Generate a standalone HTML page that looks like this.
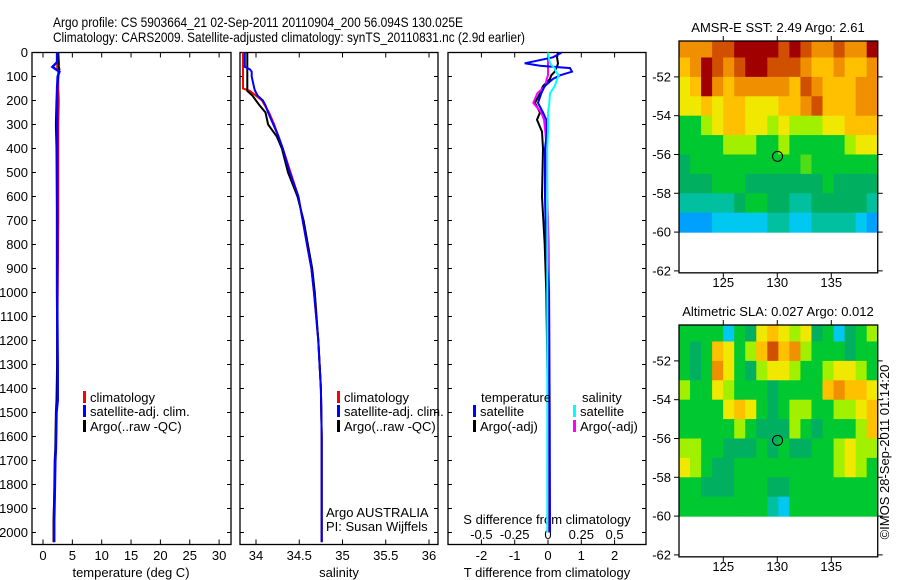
<!DOCTYPE html>
<html><head><meta charset="utf-8"><style>
html,body{margin:0;padding:0;background:#fff;}
svg{display:block;font-family:"Liberation Sans",sans-serif;}
</style></head><body>
<svg id="root" width="900" height="580" viewBox="0 0 900 580" xmlns="http://www.w3.org/2000/svg">
<text x="53" y="27" font-size="14" textLength="410" lengthAdjust="spacingAndGlyphs">Argo profile: CS 5903664_21 02-Sep-2011 20110904_200 56.094S 130.025E</text>
<text x="53" y="42" font-size="14" textLength="472" lengthAdjust="spacingAndGlyphs">Climatology: CARS2009. Satellite-adjusted climatology: synTS_20110831.nc (2.9d earlier)</text>
<g id="g"></g>
</svg>
<script>
// ---------- data ----------
const depthTicks = [0,100,200,300,400,500,600,700,800,900,1000,1100,1200,1300,1400,1500,1600,1700,1800,1900,2000];
const tempTicks = [0,5,10,15,20,25,30];
const salTicks = [34,34.5,35,35.5,36];
const tdiffTicks = [-2,-1,0,1,2];
const sdiffTicks = [-0.5,-0.25,0,0.25,0.5];
const sdiffTickLabels = ["-0.5","-0.25","0","0.25","0.5"];

const tDepth = [0,40,60,70,80,100,150,200,300,400,700,1000,1300,1450,1500,1650,1700,1850,1950,2040];
const tClim  = [2.5,2.5,2.4,2.6,2.6,2.6,2.6,2.7,2.6,2.6,2.6,2.5,2.4,2.4,2.3,2.2,2.1,1.9,1.8,1.8];
const tSat   = [2.4,2.4,1.6,2.2,2.8,2.5,2.4,2.4,2.4,2.4,2.4,2.4,2.5,2.5,2.3,2.2,2.1,2.0,1.9,1.9];
const tArgo  = [2.6,2.7,2.7,2.8,2.7,2.6,2.4,2.3,2.2,2.3,2.4,2.4,2.4,2.3,2.2,2.1,2.0,1.9,1.8,1.8];

const sDepth = [0,60,70,80,100,150,160,180,200,220,250,300,350,400,500,600,700,800,900,1000,1200,1400,1600,2000,2040];
const sClim  = [33.85,33.85,33.85,33.85,33.85,33.85,33.93,34.0,34.07,34.1,34.15,34.21,34.26,34.31,34.40,34.49,34.54,34.59,34.64,34.67,34.72,34.75,34.76,34.76,34.76];
const sSat   = [33.87,33.87,33.93,33.95,33.95,33.98,33.99,34.02,34.08,34.11,34.14,34.20,34.26,34.31,34.39,34.49,34.54,34.59,34.64,34.67,34.72,34.75,34.76,34.76,34.76];
const sArgo  = [33.90,33.90,33.90,33.90,33.90,33.90,33.90,33.96,34.0,34.04,34.11,34.14,34.24,34.30,34.37,34.48,34.55,34.60,34.65,34.68,34.72,34.75,34.76,34.76,34.76];

const dDepth  = [0,20,45,55,65,80,95,110,140,170,210,250,280,330,400,600,800,1000,1500,2000];
const dTSat   = [0.41,0.15,-0.7,-0.24,0.66,0.72,0.36,0.15,-0.1,-0.2,-0.3,-0.15,-0.05,-0.03,-0.09,-0.09,-0.06,0.03,0.05,0.06];
const dTArgo  = [0.3,0.27,0.3,0.28,0.25,0.2,0.1,0.06,-0.15,-0.24,-0.39,-0.24,-0.33,-0.18,-0.15,-0.18,-0.1,-0.05,0.0,0.0];
const dSSat   = [0.0,0.005,0.015,0.03,0.05,0.06,0.08,0.07,0.05,0.015,0.01,0.0,0.0,0.0,-0.005,-0.005,-0.005,-0.005,-0.005,-0.005];
const dSArgo  = [0.0,0.0,0.0,0.0,0.0,0.0,0.0,-0.01,-0.02,-0.08,-0.11,-0.05,-0.03,-0.02,-0.01,-0.005,0.005,0.008,0.01,0.012];

const lonTicks = [125,130,135];
const latTicks = [-52,-54,-56,-58,-60,-62];
const sstGrid = [
 [7,7,7,8,8,9,9,9,9,8,9,8,7,7,8,7,7,9],
 [6,7,9,8,7,8,9,9,8,8,8,7,6,6,7,6,6,7],
 [5,6,9,7,6,7,7,7,7,7,6,8,7,6,6,6,7,7],
 [5,5,6,5,6,6,5,5,5,6,6,7,8,6,6,6,7,7],
 [3,3,4,5,6,6,5,5,4,5,4,4,4,5,5,6,6,6],
 [3,3,3,3,4,4,4,3,3,4,3,3,3,3,3,4,5,5],
 [2.5,3,3,3,3,3,3,3,3,3,3,3.5,3,3,3,3,3,3],
 [2.5,2.5,2.5,3,3,3,2.5,2.5,2.5,2.5,2.5,2.5,2.5,3,2.5,2.5,2.5,2.5],
 [2,2,2,2,2,2.5,3,3,2.5,2.5,2,2,2.5,2.5,2.5,2.5,2.5,2],
 [1,1,1,1.5,1.5,1.5,1.5,1.5,2,2,1.5,1.5,2,2,2,2,1.5,1]];
const slaGrid = [
 [3,3,3,3,1.5,3,2.5,5,6,5,4,5,2.5,3,1.5,2.5,3,4],
 [3,2.5,3,6,5,3,4,6,8,6,7,4,3,3,3,2.5,3,3],
 [3,2.5,3,7,5,3,2.5,4,5,5,4,3,3,4,5,5,4,3],
 [4,3,3,5,4,3,3,3,2.5,3,3,3,3,6,7,6,6,5],
 [3,3,3,3,5,6,5,3,2.5,3,4,4,3,3,4,4,5,6],
 [3,3,3,3,3,4,3,2.5,2.5,2.5,4,3,2.5,3,3,3,4,6],
 [4,4,3,3,2.5,2.5,2.5,3,2.5,3,2.5,2.5,3,3,4,5,4,4],
 [5,4,3,2.5,2.5,3,3,3,3,3,3,3,3,3,4,5,4,3],
 [3,3,2.5,2.5,2.5,3,3,3,2.5,2.5,3,3,3,3,3,3,3,3],
 [3,3,3,3,3,3,3,3,2,1.5,3,3,3,3,3,3,3,3]];
const argoLon = 130.025, argoLat = -56.094;

// ---------- drawing ----------
const NS="http://www.w3.org/2000/svg";
const G=document.getElementById('g');
function mk(tag,attrs,parent){const e=document.createElementNS(NS,tag);for(const k in attrs)e.setAttribute(k,attrs[k]);(parent||G).appendChild(e);return e;}
const yTop=52.5, yBot=544.5;
const yD=d=>yTop+d*0.24;
const panels=[{x0:32,x1:231},{x0:240,x1:438},{x0:448,x1:646}];
const xT=t=>43+t*5.87;
const xS=s=>256+(s-34)*86.5;
const xTd=t=>548+t*33.3;
const xSd=s=>548+s*133.2;

panels.forEach((p,i)=>{
 const r=mk('rect',{x:p.x0,y:yTop,width:p.x1-p.x0,height:yBot-yTop,fill:'none',stroke:'#000','stroke-width':1.3});
 
 
 depthTicks.forEach(d=>{
  mk('line',{x1:p.x0,x2:p.x0+4,y1:yD(d),y2:yD(d),stroke:'#000'});
  mk('line',{x1:p.x1-4,x2:p.x1,y1:yD(d),y2:yD(d),stroke:'#000'});
 });
});
depthTicks.forEach(d=>{
 const t=mk('text',{x:28,y:yD(d)+4.5,'font-size':13,'text-anchor':'end'});t.textContent=d;
 
 
});
function xticks(vals,fx,labels,ly){
 vals.forEach((v,i)=>{
  const x=fx(v);
  mk('line',{x1:x,x2:x,y1:yBot,y2:yBot-5,stroke:'#000'});
  mk('line',{x1:x,x2:x,y1:yTop,y2:yTop+5,stroke:'#000'});
  const t=mk('text',{x:x,y:ly,'font-size':13,'text-anchor':'middle'});t.textContent=labels?labels[i]:v;
  
  
 });
}
xticks(tempTicks,xT,null,560);
xticks(salTicks,xS,null,560);
xticks(tdiffTicks,xTd,null,560);
sdiffTickLabels.forEach((l,i)=>{
 const t=mk('text',{x:xSd(sdiffTicks[i]),y:539,'font-size':13,'text-anchor':'middle'});t.textContent=l;
 
 
});
function lbl(x,y,s,name,anchor){const t=mk('text',{x:x,y:y,'font-size':13,'text-anchor':anchor||'middle'});t.textContent=s;
 
 return t;}
lbl(131,577,'temperature (deg C)','x-axis-title-temperature');
lbl(339,577,'salinity','x-axis-title-salinity');
lbl(547,577,'T difference from climatology','x-axis-title-t-diff');
lbl(547,524,'S difference from climatology','s-diff-axis-title');
lbl(326,517,'Argo AUSTRALIA','argo-australia-label','start');
lbl(326,531,'PI: Susan Wijffels','pi-label','start');

function series(xs,ds,fx,color,name,w){
 const pts=xs.map((v,i)=>fx(v).toFixed(1)+','+yD(ds[i]).toFixed(1)).join(' ');
 const e=mk('polyline',{points:pts,fill:'none',stroke:color,'stroke-width':w||2});
 
 
}
series(tClim,tDepth,xT,'#ff0000','temp-climatology-line');
series(tArgo,tDepth,xT,'#000','temp-argo-line');
series(tSat,tDepth,xT,'#0000ff','temp-satellite-line',2.5);
series(sClim,sDepth,xS,'#ff0000','sal-climatology-line');
series(sArgo,sDepth,xS,'#000','sal-argo-line');
series(sSat,sDepth,xS,'#0000ff','sal-satellite-line');
series(dTArgo,dDepth,xTd,'#000','tdiff-argo-line');
series(dSArgo,dDepth,xSd,'#ff00ff','sdiff-argo-line');
series(dTSat,dDepth,xTd,'#0000ff','tdiff-satellite-line');
series(dSSat,dDepth,xSd,'#00ffff','sdiff-satellite-line');

function legend(x,y,color,text,name){
 mk('rect',{x:x,y:y-11,width:3,height:12,fill:color});
 lbl(x+7,y,text,name,'start');
}
[[32+51,'0'],[240+97,'1']].forEach(([lx,k])=>{
 legend(lx,402,'#ff0000','climatology','legend-climatology-'+k);
 legend(lx,416,'#0000ff','satellite-adj. clim.','legend-satellite-'+k);
 legend(lx,431,'#000','Argo(..raw -QC)','legend-argo-'+k);
});
lbl(481,402,'temperature','legend-title-temperature','start');
lbl(582,402,'salinity','legend-title-salinity','start');
legend(473,416,'#0000ff','satellite','legend-t-satellite');
legend(473,431,'#000','Argo(-adj)','legend-t-argo');
legend(573,416,'#00ffff','satellite','legend-s-satellite');
legend(573,431,'#ff00ff','Argo(-adj)','legend-s-argo');

// ---------- maps ----------
const stops=[[0.5,[0,80,224]],[1,[0,160,255]],[1.5,[0,200,240]],[2,[0,192,160]],[2.5,[0,176,96]],[3,[0,200,48]],[4,[160,240,0]],[5,[240,232,0]],[6,[255,192,0]],[7,[240,144,0]],[8,[208,80,0]],[9,[160,0,0]]];
function col(v){for(let i=1;i<stops.length;i++){if(v<=stops[i][0]){const a=stops[i-1],b=stops[i],f=(v-a[0])/(b[0]-a[0]);return 'rgb('+a[1].map((c,j)=>Math.round(c+(b[1][j]-c)*f)).join(',')+')';}}return 'rgb(160,0,0)';}
const lonMin=120.9,lonMax=139.3,latTop=-50.15,latBot=-62.1;
function drawMap(grid,y0,title,name){
 const xL=lon=>679+(lon-lonMin)*10.8;
 const yL=lat=>y0+(latTop-lat)*19.4;
 const cw=(lonMax-lonMin)/grid[0].length;
 grid.forEach((row,r)=>row.forEach((v,c)=>{
  const la0=r===0?latTop:-50-r, la1=-51-r;
  const e=mk('rect',{x:xL(lonMin+c*cw).toFixed(2),y:yL(la0).toFixed(2),width:(cw*10.8+0.6).toFixed(2),height:(yL(la1)-yL(la0)+0.6).toFixed(2),fill:col(v)});
  
  
 }));
 const f=mk('rect',{x:679,y:y0,width:xL(lonMax)-679,height:yL(latBot)-y0,fill:'none',stroke:'#000','stroke-width':1.3});
 
 
 lonTicks.forEach(l=>{const x=xL(l);
  mk('line',{x1:x,x2:x,y1:y0,y2:y0-5,stroke:'#000'});
  mk('line',{x1:x,x2:x,y1:yL(latBot),y2:yL(latBot)+5,stroke:'#000'});
  lbl(x,yL(latBot)+14,String(l),'lon-tick-label');});
 latTicks.forEach(l=>{const y=yL(l);
  mk('line',{x1:679,x2:674,y1:y,y2:y,stroke:'#000'});
  mk('line',{x1:xL(lonMax),x2:xL(lonMax)+5,y1:y,y2:y,stroke:'#000'});
  lbl(671,y+4.5,String(l),'lat-tick-label','end');});
 const c=mk('circle',{cx:xL(argoLon),cy:yL(argoLat),r:5,fill:'none',stroke:'#000','stroke-width':1});
 
 
 lbl(778,y0-9,title,name+'-title');
}
drawMap(sstGrid,41,'AMSR-E SST: 2.49 Argo: 2.61','sst-map');
drawMap(slaGrid,325,'Altimetric SLA: 0.027 Argo: 0.012','sla-map');
const cr=mk('text',{x:0,y:0,'font-size':13,'text-anchor':'middle',transform:'translate(889,452) rotate(-90)'});
cr.textContent='©IMOS 28-Sep-2011 01:14:20';


</script>
</body></html>
